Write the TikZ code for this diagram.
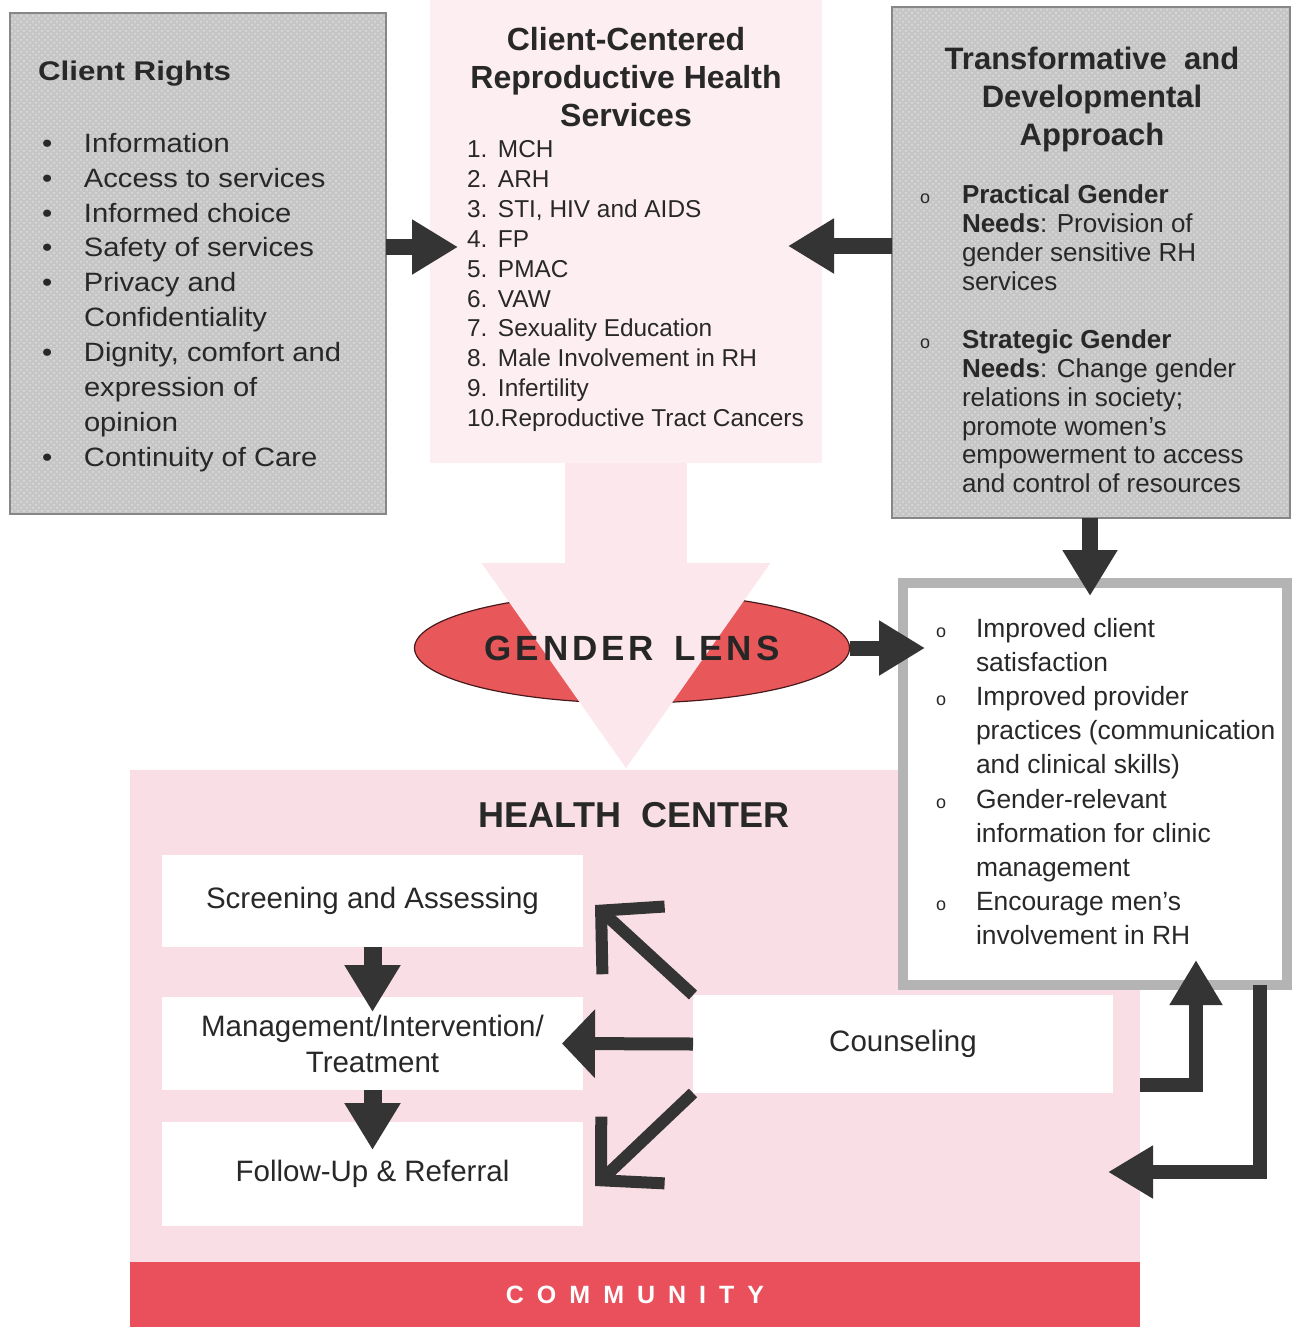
\documentclass[tikz,border=0pt]{standalone}
\usepackage{fontspec}
\setmainfont{Liberation Sans}
\newfontfamily\crfam[FakeStretch=1.1]{Liberation Sans}
\newfontfamily\crtfam[FakeStretch=1.16]{Liberation Sans}
\usetikzlibrary{arrows.meta,shapes.geometric,calc,patterns}

\definecolor{boxgray}{RGB}{198,198,198}
\definecolor{boxgrain}{RGB}{222,222,222}
\definecolor{boxedge}{RGB}{135,135,135}
\definecolor{rimgray}{RGB}{180,180,180}
\definecolor{palepink}{RGB}{253,238,241}
\definecolor{arrowpink}{RGB}{252,232,236}
\definecolor{hcpink}{RGB}{249,223,229}
\definecolor{lensred}{RGB}{232,88,90}
\definecolor{comred}{RGB}{233,80,92}
\definecolor{ink}{RGB}{40,40,40}
\definecolor{arrowink}{RGB}{52,52,52}

% font sizes (1px of the drawing = 0.5pt)
\newcommand*\fntcrt{\crtfam\bfseries\fontsize{13.5}{16}\selectfont}
\newcommand*\fntcrl{\crfam\fontsize{13.25}{17.45}\selectfont}
\newcommand*\fntcct{\bfseries\fontsize{16}{19}\selectfont}
\newcommand*\fntccl{\fontsize{12.2}{14.95}\selectfont}
\newcommand*\fnttdt{\bfseries\fontsize{15.5}{19}\selectfont}
\newcommand*\fnttdb{\fontsize{13}{14.45}\selectfont}
\newcommand*\fntout{\fontsize{13.2}{17.1}\selectfont}
\newcommand*\fnthc{\bfseries\fontsize{18}{21}\selectfont}
\newcommand*\fntbox{\fontsize{14.75}{18}\selectfont}
\newcommand*\fntlens{\bfseries\fontsize{17.5}{20}\selectfont}
\newcommand*\fntcom{\bfseries\fontsize{12.5}{14}\selectfont}

% list helpers
\newcommand*\cbul{\makebox[21pt][l]{\textbullet}}
\newcommand*\cind{\hspace*{21pt}}
\newcommand*\nbox[1]{\makebox[15.5pt][l]{#1}}
\newcommand*\smallo{{\fontsize{9}{9}\selectfont o}}
\newcommand*\tbul{\makebox[21pt][l]{\smallo}}
\newcommand*\tind{\hspace*{21pt}}
\newcommand*\obul{\makebox[20pt][l]{\smallo}}
\newcommand*\oind{\hspace*{20pt}}

\tikzset{
  panel/.style={rectangle, inner sep=0pt, outer sep=0pt},
  graybox/.style={panel, fill=boxgray,
    postaction={pattern=crosshatch dots, pattern color=boxgrain},
    postaction={draw=boxedge, line width=0.8pt}},
  whitebox/.style={panel, fill=white, text=ink, font=\fntbox, align=center},
  label/.style={inner sep=0pt, outer sep=0pt, text=ink},
  blk/.style={draw=arrowink, line width=8pt, -{Triangle[length=23pt,width=26pt]}},
  blkstep/.style={draw=arrowink, line width=9pt, -{Triangle[length=23.5pt,width=26.5pt]}},
  blkside/.style={draw=arrowink, line width=6.5pt, -{Triangle[length=16.5pt,width=33.5pt]}},
  barb/.style={draw=arrowink, line width=6pt, -{Straight Barb[length=22pt,width=46pt]}},
  elbow/.style={draw=arrowink, line width=7pt, line join=miter, -{Triangle[length=22.5pt,width=25pt]}},
  pinkarrow/.style={draw=arrowpink, line width=61pt, -{Triangle[length=103.5pt,width=137pt]}}
}

\begin{document}
\begin{tikzpicture}[x=0.5pt,y=-0.5pt]
\useasboundingbox (0,0) rectangle (1293,1327);

% health centre area and community band
\node[panel, fill=hcpink, minimum width=505pt, minimum height=246pt] (hc) at (635,1016) {};
\node[panel, fill=comred, minimum width=505pt, minimum height=32.5pt, text=white, font=\fntcom] (com) at (635,1294.5)
  {C\kern6.5pt O\kern6.5pt M\kern6.5pt M\kern6.5pt U\kern6.5pt N\kern6.5pt I\kern6.5pt T\kern6.5pt Y};
\node[label, font=\fnthc] (hct) at (634,815) {HEALTH\hspace{10pt}CENTER};

% services column
\node[panel, fill=palepink, minimum width=196pt, minimum height=231.5pt] (ccs) at (626,231.5) {};
\node[label, anchor=north, align=center, font=\fntcct] (cct) at (626,27)
  {Client-Centered\\Reproductive Health\\Services};
\node[label, anchor=north west, align=left, font=\fntccl] (ccl) at (467,140.5)
  {\nbox{1.}MCH\\
   \nbox{2.}ARH\\
   \nbox{3.}STI, HIV and AIDS\\
   \nbox{4.}FP\\
   \nbox{5.}PMAC\\
   \nbox{6.}VAW\\
   \nbox{7.}Sexuality Education\\
   \nbox{8.}Male Involvement in RH\\
   \nbox{9.}Infertility\\
   10.Reproductive Tract Cancers};

% gender lens under the broad pink arrow
\node[ellipse, fill=lensred, draw=black!70!lensred, line width=0.6pt, inner sep=0pt, outer sep=0pt,
      minimum width=217.5pt, minimum height=55pt] (lens) at (632,648) {};
\draw[pinkarrow] (ccs.south) -- (ccs.south |- hc.north);
\node[label, font=\fntlens, text=black!85] (lenst) at (632,648)
  {G\kern2pt E\kern2pt N\kern2pt D\kern2pt E\kern2pt R\hspace{10pt}L\kern2pt E\kern2pt N\kern2pt S};

% client rights
\node[graybox, minimum width=188pt, minimum height=250.5pt] (cr) at (198,263.5) {};
\node[label, anchor=base west, font=\fntcrt] (crt) at (38,81) {Client Rights};
\node[label, anchor=north west, align=left, font=\fntcrl] (crl) at (42,133)
  {\cbul Information\\
   \cbul Access to services\\
   \cbul Informed choice\\
   \cbul Safety of services\\
   \cbul Privacy and\\
   \cind Confidentiality\\
   \cbul Dignity, comfort and\\
   \cind expression of\\
   \cind opinion\\
   \cbul Continuity of Care};

% transformative approach
\node[graybox, minimum width=199pt, minimum height=255.5pt] (td) at (1091,262.5) {};
\node[label, anchor=north, align=center, font=\fnttdt] (tdt) at (1092,47)
  {Transformative\ \ and\\Developmental\\Approach};
\node[label, anchor=north west, align=left, font=\fnttdb] (tdb) at (920,185)
  {\tbul\textbf{Practical Gender}\\
   \tind\textbf{Needs}: Provision of\\
   \tind gender sensitive RH\\
   \tind services\\[14.45pt]
   \tbul\textbf{Strategic Gender}\\
   \tind\textbf{Needs}: Change gender\\
   \tind relations in society;\\
   \tind promote women's\\
   \tind empowerment to access\\
   \tind and control of resources};

% outcomes
\node[panel, fill=white, draw=rimgray, line width=5pt, minimum width=192pt, minimum height=201pt] (out) at (1095,784) {};
\node[label, anchor=north west, align=left, font=\fntout] (outl) at (936,618)
  {\obul Improved client\\
   \oind satisfaction\\
   \obul Improved provider\\
   \oind practices (communication\\
   \oind and clinical skills)\\
   \obul Gender-relevant\\
   \oind information for clinic\\
   \oind management\\
   \obul Encourage men's\\
   \oind involvement in RH};

% service steps
\node[whitebox, minimum width=210.5pt, minimum height=46pt] (scr) at (372.5,901) {Screening and Assessing};
\node[whitebox, minimum width=210.5pt, minimum height=46.5pt] (mgmt) at (372.5,1043.5) {Management/Intervention/\\Treatment};
\node[whitebox, minimum width=210.5pt, minimum height=52pt] (fu) at (372.5,1174) {Follow-Up \& Referral};
\node[whitebox, minimum width=210pt, minimum height=49pt] (cns) at (903,1044) {Counseling};

% connectors
\coordinate (tipA) at (458,247);
\coordinate (tipB) at (788,246);
\coordinate (tipC) at (1090,596);
\coordinate (tipD) at (925,648);
\coordinate (tipF) at (1196,960);
\coordinate (tipG) at (1108,1172);

\draw[blk] (cr.east |- tipA) -- (tipA);
\draw[blk] (td.west |- tipB) -- (tipB);
\draw[blk] (tipC |- td.south) -- (tipC);
\draw[blk, line width=7.5pt] (lens.east) -- (tipD);

\draw[blkstep] (scr.south) -- ([yshift=-7.5pt]mgmt.north);
\draw[blkstep] (mgmt.south) -- ([yshift=-14pt]fu.north);

\draw[blkside] (cns.west) -- ([xshift=-10.5pt]mgmt.east);
\draw[barb] (cns.north west) -- ([xshift=6pt,yshift=-2pt]scr.east);
\draw[barb] (cns.south west) -- ([xshift=6pt,yshift=-6pt]fu.east);

\draw[elbow] (hc.east |- 0,1085) -| (tipF);
\draw[elbow] (out.south -| 1260,0) |- (tipG);
\end{tikzpicture}
\end{document}
